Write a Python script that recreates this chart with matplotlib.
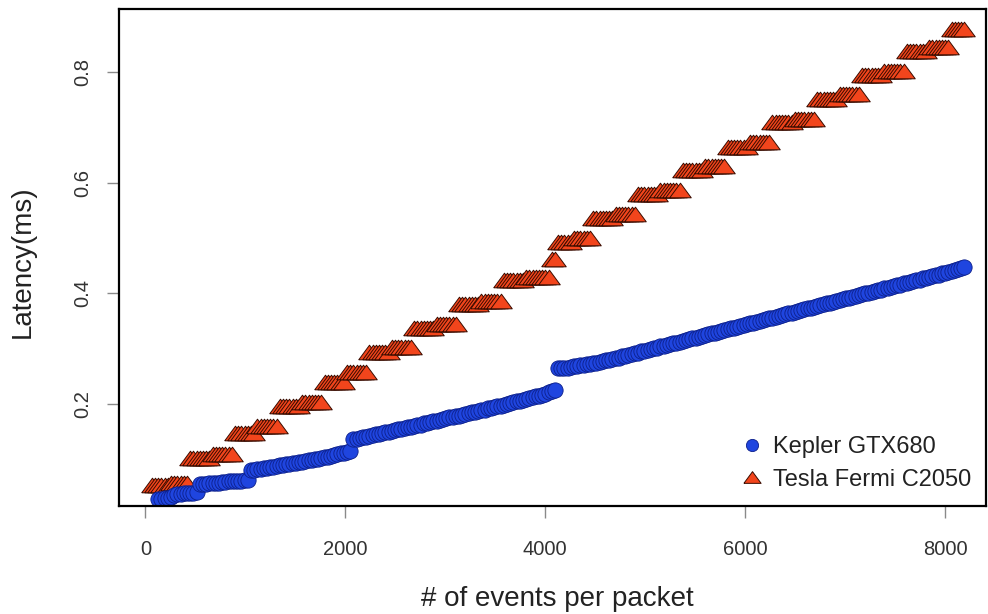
import matplotlib
matplotlib.use('Agg')
import matplotlib.pyplot as plt

plt.rcParams['font.family'] = ['Liberation Sans', 'DejaVu Sans']

# packet sizes (events per packet)
packet_sizes = [64, 96, 128, 160, 192, 224, 256, 288, 320, 352, 384, 416, 448, 480, 512, 544,
                576, 608, 640, 672, 704, 736, 768, 800, 832, 864, 896, 928, 960, 992, 1024, 1056,
                1088, 1120, 1152, 1184, 1216, 1248, 1280, 1312, 1344, 1376, 1408, 1440, 1472, 1504, 1536, 1568,
                1600, 1632, 1664, 1696, 1728, 1760, 1792, 1824, 1856, 1888, 1920, 1952, 1984, 2016, 2048, 2080,
                2112, 2144, 2176, 2208, 2240, 2272, 2304, 2336, 2368, 2400, 2432, 2464, 2496, 2528, 2560, 2592,
                2624, 2656, 2688, 2720, 2752, 2784, 2816, 2848, 2880, 2912, 2944, 2976, 3008, 3040, 3072, 3104,
                3136, 3168, 3200, 3232, 3264, 3296, 3328, 3360, 3392, 3424, 3456, 3488, 3520, 3552, 3584, 3616,
                3648, 3680, 3712, 3744, 3776, 3808, 3840, 3872, 3904, 3936, 3968, 4000, 4032, 4064, 4096, 4128,
                4160, 4192, 4224, 4256, 4288, 4320, 4352, 4384, 4416, 4448, 4480, 4512, 4544, 4576, 4608, 4640,
                4672, 4704, 4736, 4768, 4800, 4832, 4864, 4896, 4928, 4960, 4992, 5024, 5056, 5088, 5120, 5152,
                5184, 5216, 5248, 5280, 5312, 5344, 5376, 5408, 5440, 5472, 5504, 5536, 5568, 5600, 5632, 5664,
                5696, 5728, 5760, 5792, 5824, 5856, 5888, 5920, 5952, 5984, 6016, 6048, 6080, 6112, 6144, 6176,
                6208, 6240, 6272, 6304, 6336, 6368, 6400, 6432, 6464, 6496, 6528, 6560, 6592, 6624, 6656, 6688,
                6720, 6752, 6784, 6816, 6848, 6880, 6912, 6944, 6976, 7008, 7040, 7072, 7104, 7136, 7168, 7200,
                7232, 7264, 7296, 7328, 7360, 7392, 7424, 7456, 7488, 7520, 7552, 7584, 7616, 7648, 7680, 7712,
                7744, 7776, 7808, 7840, 7872, 7904, 7936, 7968, 8000, 8032, 8064, 8096, 8128, 8160, 8192]

# latency (ms), Tesla Fermi C2050 -> all packet sizes
tesla = [0.054, 0.054, 0.054, 0.054, 0.054, 0.054, 0.057, 0.057, 0.057, 0.057, 0.057, 0.057,
         0.103, 0.103, 0.103, 0.103, 0.103, 0.103, 0.103, 0.110, 0.110, 0.110, 0.110, 0.110, 0.110, 0.110,
         0.147, 0.147, 0.147, 0.147, 0.147, 0.147, 0.147, 0.160, 0.160, 0.160, 0.160, 0.160, 0.160, 0.160,
         0.196, 0.196, 0.196, 0.196, 0.196, 0.196, 0.196, 0.204, 0.204, 0.204, 0.204, 0.204, 0.204, 0.204,
         0.240, 0.240, 0.240, 0.240, 0.240, 0.240, 0.240, 0.258, 0.258, 0.258, 0.258, 0.258, 0.258, 0.258,
         0.294, 0.294, 0.294, 0.294, 0.294, 0.294, 0.294, 0.303, 0.303, 0.303, 0.303, 0.303, 0.303, 0.303,
         0.338, 0.338, 0.338, 0.338, 0.338, 0.338, 0.338, 0.345, 0.345, 0.345, 0.345, 0.345, 0.345, 0.345,
         0.380, 0.380, 0.380, 0.380, 0.380, 0.380, 0.380, 0.386, 0.386, 0.386, 0.386, 0.386, 0.386, 0.386,
         0.424, 0.424, 0.424, 0.424, 0.424, 0.424, 0.424, 0.430, 0.430, 0.430, 0.430, 0.430, 0.430, 0.430,
         0.430, 0.463, 0.463,
         0.493, 0.493, 0.493, 0.493, 0.493, 0.500, 0.500, 0.500, 0.500, 0.500, 0.500,
         0.536, 0.536, 0.536, 0.536, 0.536, 0.536, 0.536, 0.543, 0.543, 0.543, 0.543, 0.543, 0.543, 0.543,
         0.579, 0.579, 0.579, 0.579, 0.579, 0.579, 0.579, 0.587, 0.587, 0.587, 0.587, 0.587, 0.587, 0.587,
         0.623, 0.623, 0.623, 0.623, 0.623, 0.623, 0.623, 0.630, 0.630, 0.630, 0.630, 0.630, 0.630, 0.630,
         0.665, 0.665, 0.665, 0.665, 0.665, 0.665, 0.665, 0.673, 0.673, 0.673, 0.673, 0.673, 0.673, 0.673,
         0.709, 0.709, 0.709, 0.709, 0.709, 0.709, 0.709, 0.716, 0.716, 0.716, 0.716, 0.716, 0.716, 0.716,
         0.752, 0.752, 0.752, 0.752, 0.752, 0.752, 0.752, 0.760, 0.760, 0.760, 0.760, 0.760, 0.760, 0.760,
         0.795, 0.795, 0.795, 0.795, 0.795, 0.795, 0.795, 0.802, 0.802, 0.802, 0.802, 0.802, 0.802, 0.802,
         0.838, 0.838, 0.838, 0.838, 0.838, 0.838, 0.838, 0.846, 0.846, 0.846, 0.846, 0.846, 0.846, 0.846,
         0.878, 0.878, 0.878, 0.878, 0.878]

# latency (ms), Kepler GTX680 -> packet sizes from 128
kepler = [0.029, 0.029, 0.030, 0.031, 0.032, 0.035, 0.037, 0.038, 0.039, 0.039, 0.040, 0.040, 0.041,
          0.055, 0.056, 0.056, 0.057, 0.057, 0.058, 0.058, 0.059, 0.059, 0.060, 0.060, 0.060, 0.061, 0.061, 0.062, 0.062,
          0.080, 0.081, 0.082, 0.083, 0.084, 0.085, 0.086, 0.087, 0.088, 0.089, 0.090, 0.091, 0.092, 0.093, 0.094, 0.095,
          0.096, 0.097, 0.098, 0.099, 0.100, 0.101, 0.102, 0.104, 0.105, 0.106, 0.108, 0.109, 0.111, 0.112, 0.114, 0.116,
          0.136, 0.137, 0.139, 0.140, 0.141, 0.142, 0.144, 0.145, 0.146, 0.148, 0.149, 0.150, 0.152, 0.153, 0.154, 0.155,
          0.157, 0.158, 0.159, 0.161, 0.162, 0.163, 0.165, 0.166, 0.167, 0.169, 0.170, 0.171, 0.173, 0.174, 0.176, 0.177,
          0.178, 0.179, 0.181, 0.182, 0.184, 0.185, 0.186, 0.188, 0.189, 0.190, 0.192, 0.193, 0.195, 0.196, 0.197, 0.199,
          0.200, 0.202, 0.203, 0.205, 0.206, 0.208, 0.209, 0.211, 0.212, 0.214, 0.215, 0.217, 0.219, 0.221, 0.223, 0.225,
          0.265, 0.265, 0.266, 0.266, 0.267, 0.268, 0.269, 0.270, 0.271, 0.272, 0.273, 0.274, 0.275, 0.276, 0.277, 0.279,
          0.280, 0.281, 0.283, 0.284, 0.286, 0.287, 0.289, 0.290, 0.292, 0.293, 0.295, 0.296, 0.298, 0.299, 0.301, 0.302,
          0.304, 0.305, 0.307, 0.308, 0.310, 0.311, 0.313, 0.314, 0.316, 0.317, 0.319, 0.320, 0.322, 0.323, 0.325, 0.326,
          0.328, 0.329, 0.331, 0.332, 0.334, 0.335, 0.337, 0.338, 0.340, 0.341, 0.343, 0.344, 0.346, 0.347, 0.349, 0.350,
          0.352, 0.353, 0.355, 0.356, 0.358, 0.359, 0.361, 0.362, 0.364, 0.365, 0.367, 0.368, 0.370, 0.371, 0.373, 0.374,
          0.376, 0.377, 0.379, 0.380, 0.382, 0.383, 0.385, 0.386, 0.388, 0.389, 0.391, 0.392, 0.394, 0.395, 0.397, 0.398,
          0.400, 0.401, 0.403, 0.404, 0.406, 0.407, 0.409, 0.410, 0.412, 0.413, 0.415, 0.416, 0.418, 0.419, 0.421, 0.422,
          0.424, 0.425, 0.427, 0.428, 0.430, 0.431, 0.433, 0.434, 0.436, 0.437, 0.439, 0.440, 0.442, 0.444, 0.446, 0.448]
kepler_x = packet_sizes[2:]

xticks = [0, 2000, 4000, 6000, 8000]
yticks = [0.2, 0.4, 0.6, 0.8]

# flat triangle like the R pch 24 in the picture
tri = [(-1.0, -0.68), (1.0, -0.68), (0.0, 0.68), (-1.0, -0.68)]

fig = plt.figure(figsize=(9.88, 6.14), dpi=100)
ax = fig.add_axes([119/988, 1-506/614, 867/988, 497/614])

ax.plot(packet_sizes, tesla, linestyle='none', marker=tri, markersize=15.5,
        markerfacecolor='#f2451c', markeredgecolor='#3a0c00', markeredgewidth=0.7,
        label='Tesla Fermi C2050')
ax.plot(kepler_x, kepler, linestyle='none', marker='o', markersize=11,
        markerfacecolor='#1f45df', markeredgecolor='#0c1f8a', markeredgewidth=0.6,
        label='Kepler GTX680')

ax.set_xlim(-265, 8409)
ax.set_ylim(0.0157, 0.914)
ax.set_xticks(xticks)
ax.set_xticklabels([str(t) for t in xticks])
ax.set_yticks(yticks)
ax.set_yticklabels([str(t) for t in yticks], rotation=90, va='center')

ax.tick_params(axis='both', direction='out', length=8.5, width=1, color='#8a8a8a',
               labelsize=14.5, labelcolor='#333333')
ax.tick_params(axis='x', pad=16)
ax.tick_params(axis='y', pad=10.5)
for s in ax.spines.values():
    s.set_linewidth(1.6)
    s.set_color('black')

ax.set_xlabel('# of events per packet', fontsize=20, color='#222222')
ax.set_ylabel('Latency(ms)', fontsize=20, color='#222222')
ax.xaxis.set_label_coords(0.505, -0.161)
ax.yaxis.set_label_coords(-0.0957, 0.491)

h, l = ax.get_legend_handles_labels()
leg = ax.legend(h[::-1], l[::-1], loc='lower left', bbox_to_anchor=(0.716, 0.031),
                frameon=False, fontsize=17, handlelength=1.0, handletextpad=0.4,
                borderpad=0, borderaxespad=0, labelspacing=0.45, markerscale=0.8)
for t in leg.get_texts():
    t.set_color('#222222')

fig.savefig('out.png', dpi=100)
